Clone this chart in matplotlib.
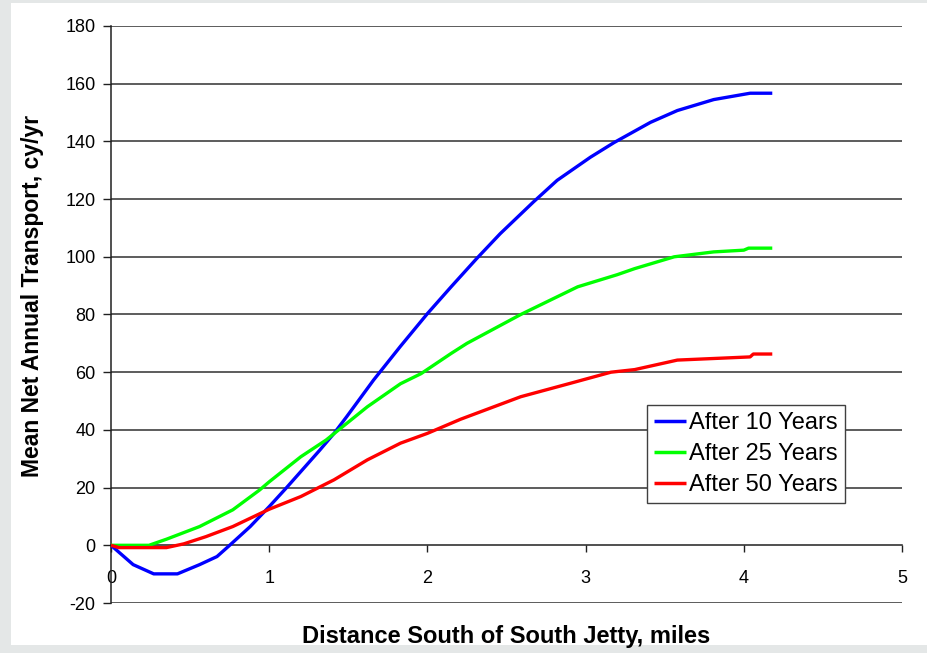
import matplotlib
matplotlib.use("Agg")
import matplotlib.pyplot as plt
from matplotlib.patches import Rectangle

plt.rcParams['font.family'] = ['Liberation Sans', 'DejaVu Sans']

# Data (miles, cy/yr)
x_10 = [0.0, 0.14, 0.27, 0.42, 0.56, 0.67, 0.75, 0.88, 1.0, 1.11, 1.32, 1.41, 1.49,
        1.66, 1.83, 2.0, 2.15, 2.31, 2.46, 2.67, 2.82, 3.03, 3.18, 3.41, 3.58, 3.81,
        4.04, 4.18]
y_10 = [0.0, -6.7, -9.9, -9.9, -6.7, -3.9, 0.0, 6.5, 13.4, 20.0, 33.0, 38.8, 44.6,
        57.3, 69.0, 80.3, 89.6, 99.3, 108.0, 119.0, 126.5, 134.5, 139.6, 146.6,
        150.7, 154.5, 156.7, 156.7]

x_25 = [0.0, 0.24, 0.35, 0.56, 0.77, 0.94, 1.0, 1.2, 1.36, 1.62, 1.83, 1.96, 2.15,
        2.25, 2.59, 2.95, 3.2, 3.31, 3.56, 3.81, 4.0, 4.03, 4.18]
y_25 = [0.0, 0.0, 2.1, 6.5, 12.3, 19.2, 22.0, 30.7, 36.5, 48.0, 56.0, 59.5, 66.5,
        70.0, 80.0, 89.6, 93.8, 95.9, 100.0, 101.7, 102.3, 103.0, 103.0]

x_50 = [0.0, 0.05, 0.35, 0.46, 0.6, 0.77, 1.0, 1.2, 1.41, 1.62, 1.83, 2.0, 2.15,
        2.21, 2.59, 2.9, 3.16, 3.31, 3.58, 4.04, 4.06, 4.18]
y_50 = [0.0, -0.8, -0.8, 0.5, 3.0, 6.5, 12.5, 16.9, 22.7, 29.6, 35.4, 38.8, 42.3,
        43.7, 51.5, 56.1, 60.0, 60.9, 64.2, 65.3, 66.3, 66.3]

series_labels = ["After 10 Years", "After 25 Years", "After 50 Years"]
series_colors = ["#0000FF", "#00FF00", "#FF0000"]

x_ticks = [0, 1, 2, 3, 4, 5]
y_ticks = [-20, 0, 20, 40, 60, 80, 100, 120, 140, 160, 180]

W, H = 928, 653
fig = plt.figure(figsize=(W / 100, H / 100), dpi=100)
fig.patch.set_facecolor("#e4e7e7")
fig.patches.append(Rectangle((11 / W, 1 - 645 / H), 1 - 11 / W, (645 - 3) / H,
                             transform=fig.transFigure, facecolor="white",
                             edgecolor="none", zorder=-5))

ax = fig.add_axes([111 / W, 1 - 603 / H, (902 - 111) / W, (603 - 26) / H])
ax.set_zorder(1)
ax.set_facecolor("white")

for xs, ys, lab, col in zip([x_10, x_25, x_50], [y_10, y_25, y_50],
                            series_labels, series_colors):
    ax.plot(xs, ys, color=col, lw=2.4, label=lab, zorder=3,
            solid_joinstyle="round", solid_capstyle="butt")

ax.set_xlim(0, 5)
ax.set_ylim(-20, 180)
ax.set_xticks(x_ticks)
ax.set_yticks(y_ticks)
ax.set_xticklabels([str(v) for v in x_ticks])
ax.set_yticklabels([str(v) for v in y_ticks])

for v in y_ticks:
    if v != 0:
        ax.axhline(v, color="#303030", lw=1.1, zorder=1)

ax.spines['top'].set_visible(False)
ax.spines['right'].set_visible(False)
ax.spines['bottom'].set_position(('data', 0))
ax.spines['bottom'].set_color("#202020")
ax.spines['left'].set_color("#202020")
ax.spines['bottom'].set_linewidth(1.1)
ax.spines['left'].set_linewidth(1.1)
ax.spines['bottom'].set_zorder(2)

ax.tick_params(axis='y', direction='out', length=6, width=1, labelsize=13,
               pad=5, colors="#202020", labelcolor="black")
ax.tick_params(axis='x', direction='out', length=5, width=1, labelsize=13,
               pad=13, colors="#202020", labelcolor="black")

fig.text(506 / W, 1 - 637 / H, "Distance South of South Jetty, miles",
         ha="center", va="center", fontsize=17, fontweight="bold")
fig.text(33 / W, 1 - 296 / H, "Mean Net Annual Transport, cy/yr",
         ha="center", va="center", rotation=90, fontsize=16.5, fontweight="bold")

leg = ax.legend(loc="upper left", bbox_to_anchor=((647 - 111) / (902 - 111),
                                                  (603 - 405) / (603 - 26)),
                frameon=True, fancybox=False, fontsize=17, handlelength=1.35,
                handletextpad=0.15, borderpad=0.3, labelspacing=0.38,
                borderaxespad=0)
leg.get_frame().set_edgecolor("#404040")
leg.get_frame().set_linewidth(1.0)
leg.get_frame().set_facecolor("white")
leg.get_frame().set_alpha(1)
for h in leg.get_lines():
    h.set_linewidth(2.5)

fig.savefig("out.png", dpi=100, facecolor=fig.get_facecolor())
